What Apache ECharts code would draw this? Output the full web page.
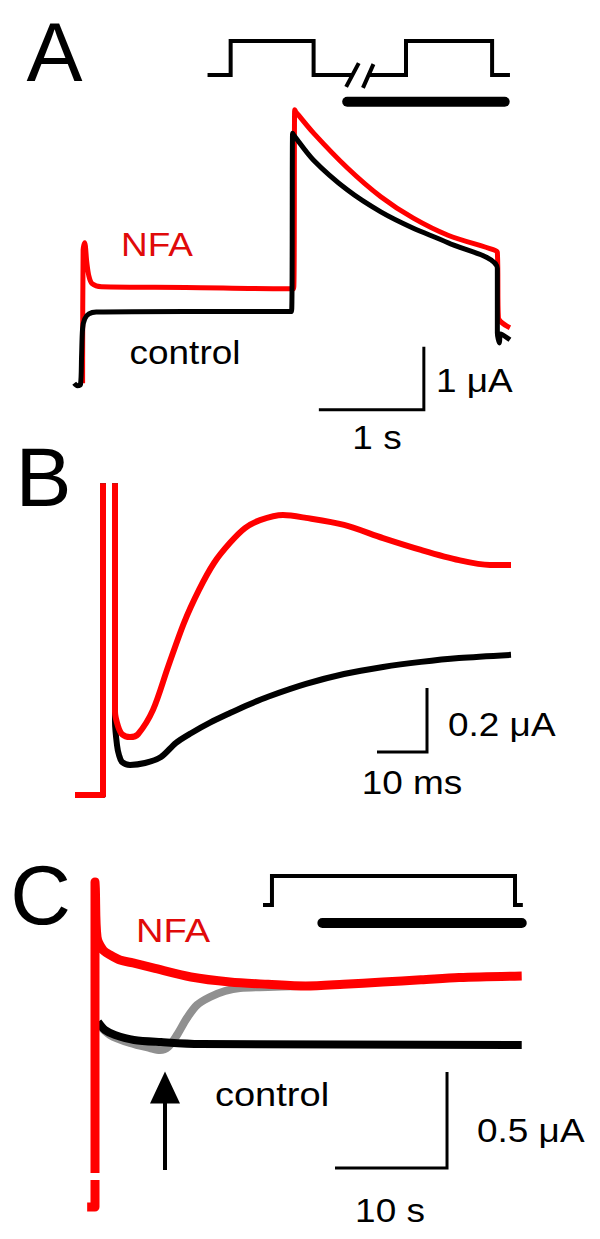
<!DOCTYPE html>
<html>
<head>
<meta charset="utf-8">
<script src="https://cdn.jsdelivr.net/npm/echarts@6/dist/echarts.min.js"></script>
<style>
html, body { margin: 0; padding: 0; background: #fff; }
#chart { width: 600px; height: 1239px; }
</style>
</head>
<body>
<div id="chart"></div>
<script>
// panel A: time (s), current (uA)
const aRedT = [0.02, 0.025, 0.04, 0.06, 0.08, 0.11, 0.2, 1.0, 1.97, 2.03, 2.04, 2.05, 2.22, 2.54, 2.86, 3.17, 3.5, 3.93, 3.97, 3.98, 4.09]
const aRedI = [-0.02, 2.1, 2.21, 1.9, 1.68, 1.56, 1.51, 1.5, 1.48, 1.48, 4.32, 4.29, 3.95, 3.4, 2.94, 2.6, 2.33, 2.1, 2.06, 1.02, 0.86]
const aCtlT = [-0.06, -0.03, 0.0, 0.01, 0.02, 0.04, 0.08, 0.15, 1.0, 2.01, 2.02, 2.03, 2.22, 2.54, 2.86, 3.17, 3.5, 3.97, 3.97, 3.99, 4.0, 4.09]
const aCtlI = [-0.02, -0.06, -0.04, 0.4, 0.85, 1.0, 1.08, 1.11, 1.12, 1.12, 3.95, 3.92, 3.52, 3.05, 2.7, 2.44, 2.21, 1.8, 0.78, 0.62, 0.76, 0.67]
const aScaleT = [2.27, 3.27, 3.27]
const aScaleI = [-0.44, -0.44, 0.56]
// voltage protocol A (schematic, 0 = holding, 1 = step)
const aProtoT = [1.21, 1.43, 1.43, 2.22, 2.22, 2.59, null, 2.73, 3.1, 3.1, 3.92, 3.92, 4.09, null, 2.53, 2.65, null, 2.69, 2.79]
const aProtoV = [0, 0, 1, 1, 0, 0, null, 0, 0, 1, 1, 0, 0, null, -0.35, 0.35, null, -0.38, 0.32]
const aBarT = [2.54, 4.04]
const aBarV = [-0.785, -0.785]

// panel B: time (ms), current (uA)
const bRedT = [0, 5.6, 5.6, 8.0, 8.0, 8.6, 9.4, 11.0, 12.6, 15.6, 18.6, 21.8, 24.8, 27.8, 31.0, 34.0, 37.0, 41.6, 46.2, 53.8, 61.6, 69.2, 76.8, 83.0, 87.2]
const bRedI = [0, 0, 1.2, 1.2, 0.26, 0.215, 0.19, 0.181, 0.19, 0.266, 0.4, 0.538, 0.641, 0.725, 0.788, 0.834, 0.859, 0.875, 0.866, 0.844, 0.803, 0.766, 0.734, 0.719, 0.719]
const bCtlT = [0, 5.6, 5.6, 8.0, 8.0, 8.4, 8.8, 9.4, 11.0, 14.0, 17.2, 20.2, 23.2, 27.0, 31.0, 34.8, 38.6, 46.2, 53.8, 61.6, 69.2, 76.8, 87.2]
const bCtlI = [0, 0, 1.2, 1.2, 0.23, 0.156, 0.125, 0.103, 0.094, 0.1, 0.119, 0.163, 0.193, 0.226, 0.256, 0.283, 0.307, 0.347, 0.378, 0.4, 0.416, 0.428, 0.438]
const bScaleT = [60.4, 70.4, 70.4]
const bScaleI = [0.134, 0.134, 0.334]

// panel C: time (s), current (uA)
const cRedT = [-0.7, 0, 0, null, 0, 0, 0.03, 0.18, 0.71, 1.34, 2.23, 3.39, 5.18, 8.57, 12.05, 15.45, 18.8, 22.2, 25.7, 29.1, 32.5, 38.1]
const cRedI = [0, 0, 0.14, null, 0.177, 1.693, 1.66, 1.406, 1.339, 1.313, 1.286, 1.271, 1.245, 1.198, 1.172, 1.16, 1.151, 1.16, 1.172, 1.183, 1.195, 1.203]
const cCtlT = [0.27, 0.89, 1.79, 3.48, 5.89, 9.38, 38.1]
const cCtlI = [0.964, 0.922, 0.896, 0.87, 0.859, 0.849, 0.844]
const cWashT = [0.27, 1.34, 3.13, 4.91, 5.8, 6.52, 7.32, 8.21, 9.11, 10.27, 11.61, 12.95, 15.45, 18.3]
const cWashI = [0.953, 0.896, 0.854, 0.828, 0.818, 0.833, 0.896, 0.984, 1.052, 1.094, 1.125, 1.141, 1.146, 1.151]
const cArrowT = [6.25, 6.25]
const cArrowI = [0.193, 0.56]
const cArrowHead = [6.25, 0.622]
const cScaleT = [21.43, 31.43, 31.43]
const cScaleI = [0.203, 0.203, 0.703]
const cProtoT = [15.0, 15.8, 15.8, 37.5, 37.5, 38.2]
const cProtoV = [0, 0, 1, 1, 0, 0]
const cBarT = [20.3, 38.1]
const cBarV = [-0.62, -0.62]

const zip = (xs, ys) => xs.map((x, i) => (x === null ? ['-', '-'] : [x, ys[i]]))

const RED = '#ff0000'
const TEXT_RED = '#e00a0a'
const BLACK = '#000000'
const GRAY = '#909090'
const FONT = 'Liberation Sans, Arial, sans-serif'

function trace(name, idx, xs, ys, color, width, extra) {
  return Object.assign({
    name: name,
    type: 'line',
    xAxisIndex: idx,
    yAxisIndex: idx,
    data: zip(xs, ys),
    showSymbol: false,
    symbol: 'none',
    silent: true,
    smooth: 0.3,
    connectNulls: false,
    lineStyle: { color: color, width: width, join: 'round' }
  }, extra || {})
}

// straight pieces (scale bars, protocols)
function rule(name, idx, xs, ys, width, cap) {
  return trace(name, idx, xs, ys, BLACK, width, {
    smooth: false,
    lineStyle: { color: BLACK, width: width, join: 'miter', cap: cap || 'butt' }
  })
}

const grids = [
  { left: 70, top: 98.5, width: 451.5, height: 321.3 },   // A traces
  { left: 70, top: 7, width: 451.5, height: 102 },        // A protocol
  { left: 70, top: 486.2, width: 450, height: 320 },      // B traces
  { left: 83.8, top: 861.4, width: 448, height: 364.8 },  // C traces
  { left: 83.8, top: 861.5, width: 448, height: 72.5 }    // C protocol
]
const xRanges = [[-0.1, 4.2], [-0.1, 4.2], [-1, 89], [-1, 39], [-1, 39]]
const yRanges = [[-0.6, 4.5], [-1, 2], [-0.035, 0.965], [-0.1, 1.8], [-1, 1.5]]

const chart = echarts.init(document.getElementById('chart'), null, { renderer: 'svg' })

function label(text, x, y, size, color, align, sx) {
  return {
    type: 'text',
    x: x,
    y: y,
    scaleX: sx || 1,
    style: {
      text: text,
      fill: color || BLACK,
      font: `${size}px ${FONT}`,
      textAlign: align || 'center',
      textVerticalAlign: 'middle'
    }
  }
}

const option = {
  animation: false,
  backgroundColor: '#ffffff',
  grid: grids,
  xAxis: xRanges.map((r, i) => ({ type: 'value', gridIndex: i, min: r[0], max: r[1], show: false })),
  yAxis: yRanges.map((r, i) => ({ type: 'value', gridIndex: i, min: r[0], max: r[1], show: false })),
  series: [
    // A
    trace('NFA', 0, aRedT, aRedI, RED, 5),
    trace('control', 0, aCtlT, aCtlI, BLACK, 5),
    rule('scaleA', 0, aScaleT, aScaleI, 3),
    rule('protocolA', 1, aProtoT, aProtoV, 4),
    rule('drugA', 1, aBarT, aBarV, 10, 'round'),
    // B
    trace('controlB', 2, bCtlT, bCtlI, BLACK, 6),
    trace('NFAB', 2, bRedT, bRedI, RED, 6),
    rule('scaleB', 2, bScaleT, bScaleI, 3),
    // C
    trace('washC', 3, cWashT, cWashI, GRAY, 8),
    trace('controlC', 3, cCtlT, cCtlI, BLACK, 8),
    trace('NFAC', 3, cRedT, cRedI, RED, 9),
    rule('arrowC', 3, cArrowT, cArrowI, 4),
    {
      type: 'scatter', xAxisIndex: 3, yAxisIndex: 3, silent: true,
      symbol: 'triangle', symbolSize: [30, 32],
      itemStyle: { color: BLACK, opacity: 1 },
      data: [cArrowHead]
    },
    rule('scaleC', 3, cScaleT, cScaleI, 3),
    rule('protocolC', 4, cProtoT, cProtoV, 4),
    rule('drugC', 4, cBarT, cBarV, 10, 'round')
  ],
  graphic: [
    label('A', 54.5, 52, 84),
    label('B', 43.5, 477, 84),
    label('C', 40.5, 895, 84),
    label('NFA', 157, 244, 33, TEXT_RED, 'center', 1.12),
    label('control', 185, 352, 33, BLACK, 'center', 1.12),
    label('1 \u03bcA', 436, 380, 33, BLACK, 'left', 1.12),
    label('1 s', 377, 437, 33, BLACK, 'center', 1.12),
    label('0.2 \u03bcA', 448, 724, 33, BLACK, 'left', 1.12),
    label('10 ms', 412, 782, 33, BLACK, 'center', 1.12),
    label('NFA', 173, 930, 34, TEXT_RED, 'center', 1.12),
    label('control', 272, 1094, 34, BLACK, 'center', 1.12),
    label('0.5 \u03bcA', 477, 1130, 33, BLACK, 'left', 1.12),
    label('10 s', 390, 1210, 33, BLACK, 'center', 1.12)
  ]
}

chart.setOption(option)
</script>
</body>
</html>
